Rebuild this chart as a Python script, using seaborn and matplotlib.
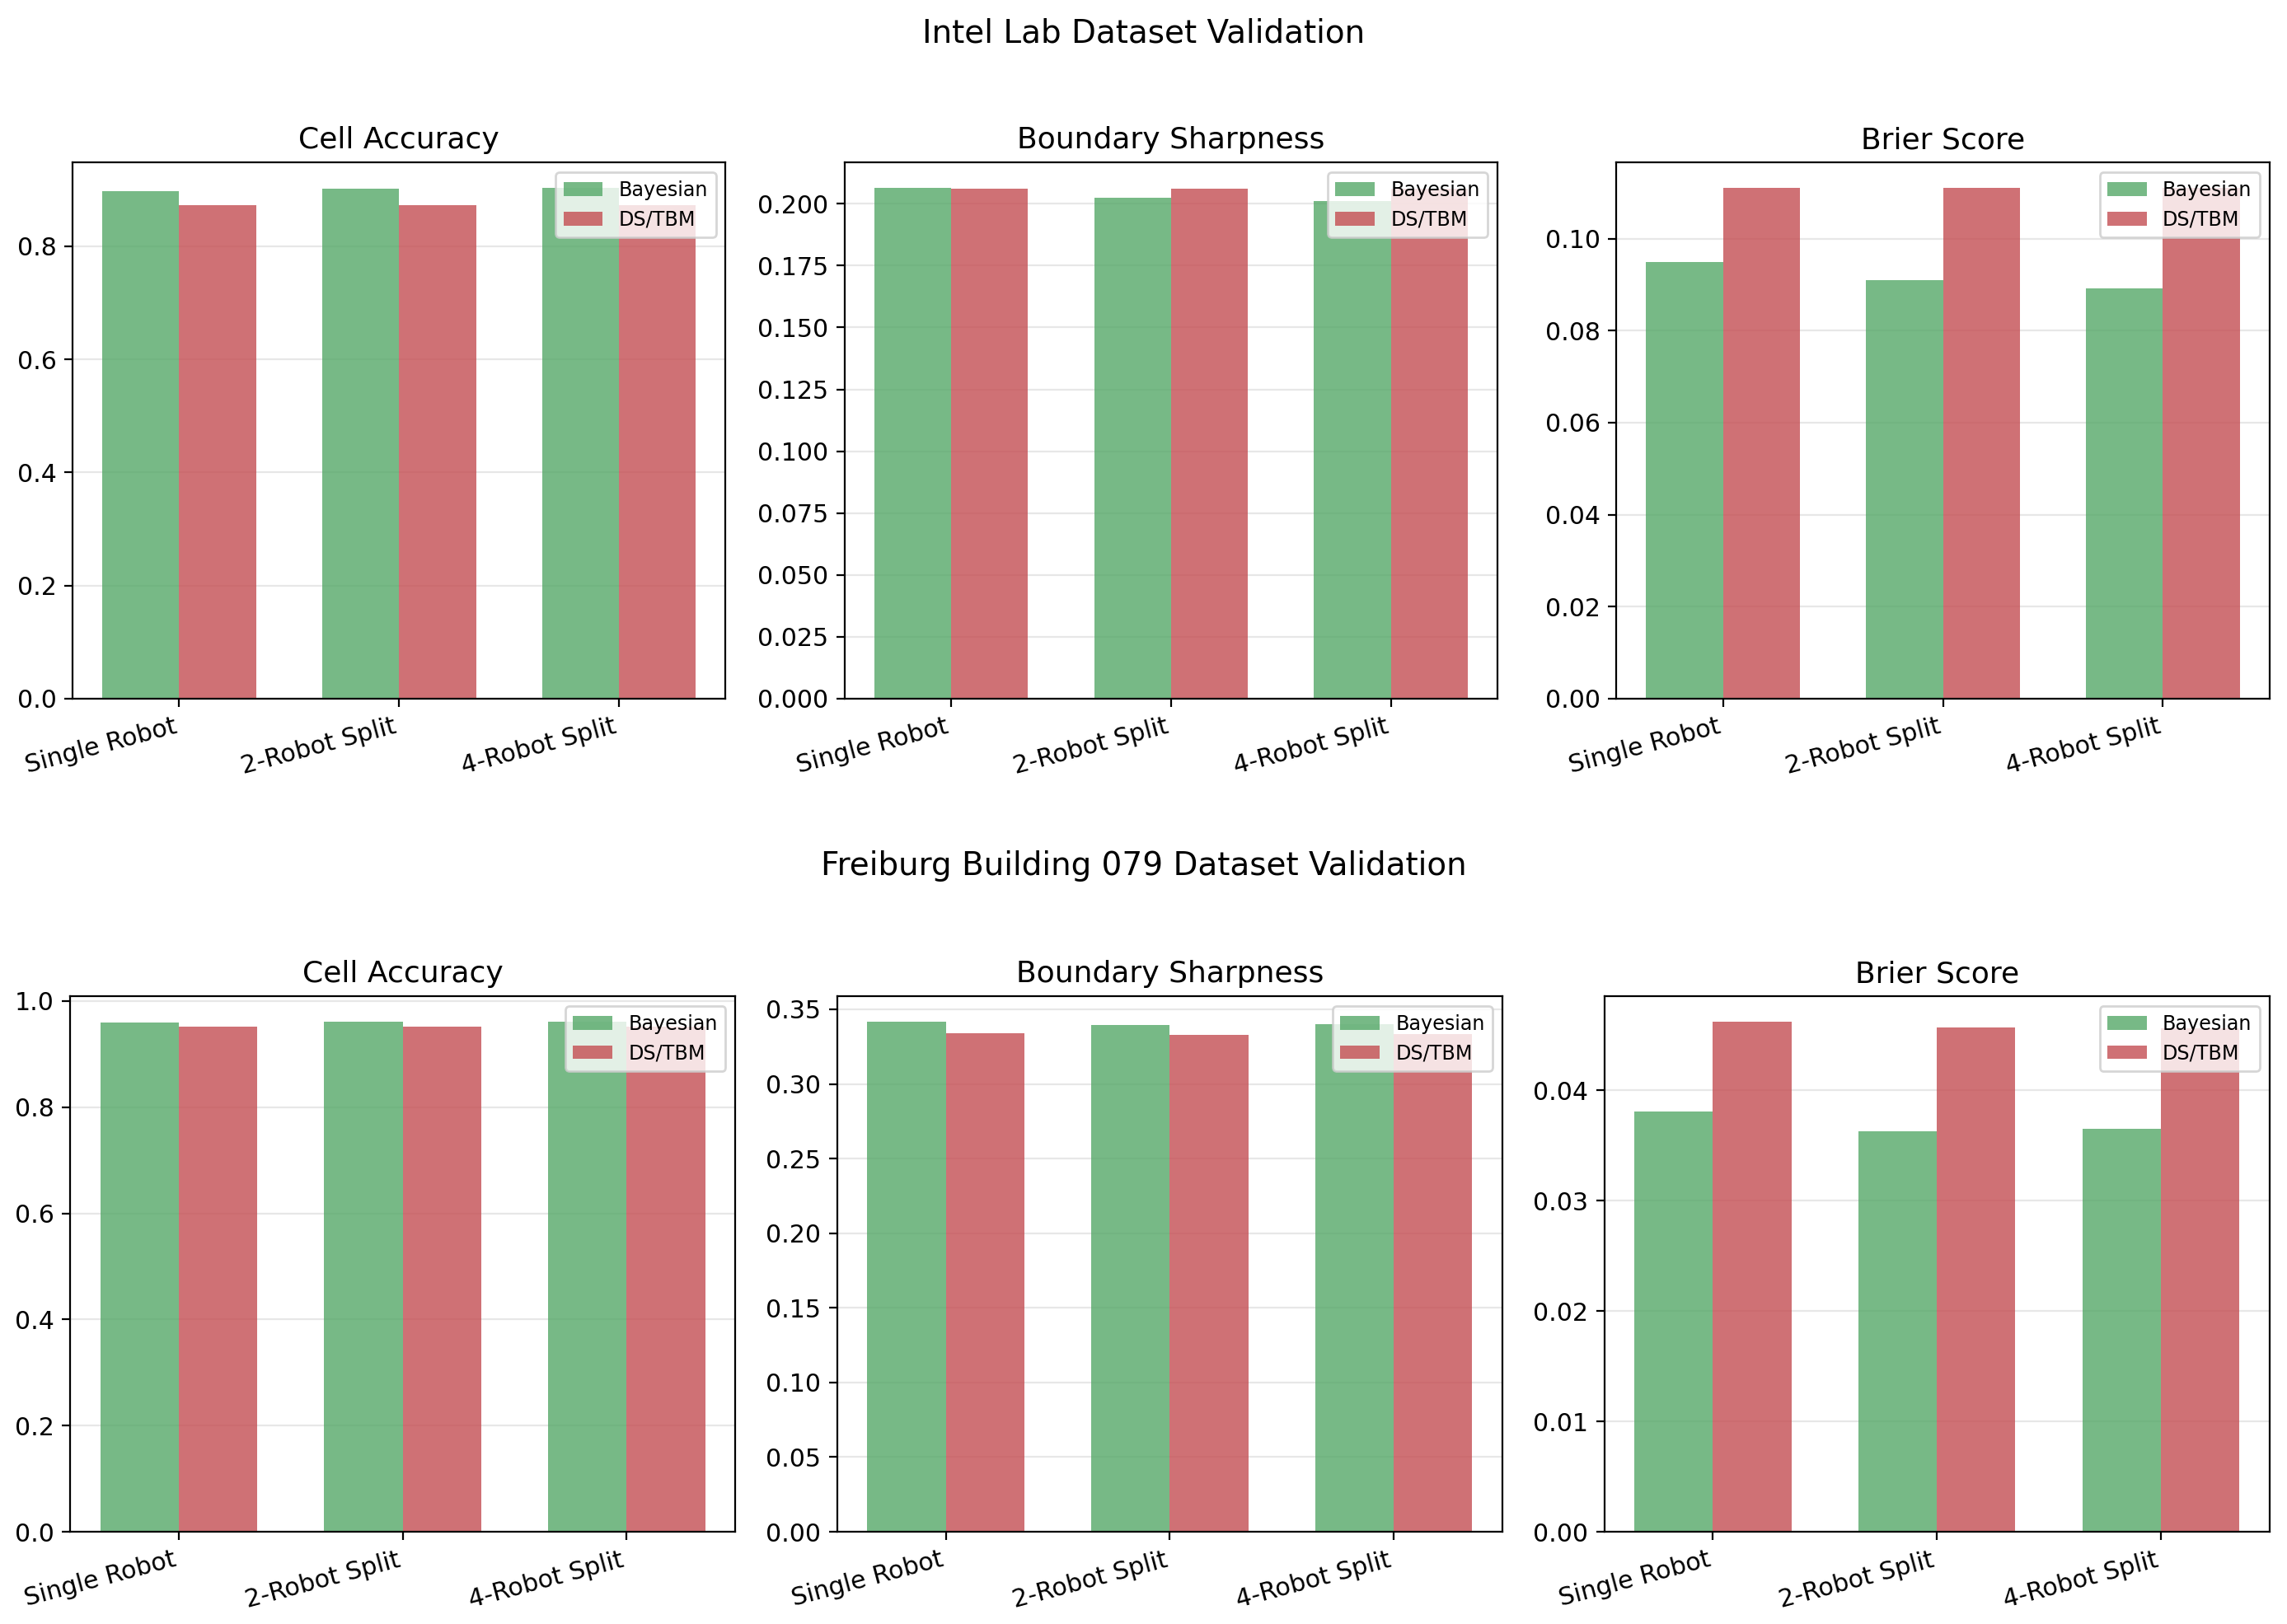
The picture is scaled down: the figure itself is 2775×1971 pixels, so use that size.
import matplotlib
matplotlib.use("Agg")
import matplotlib.pyplot as plt
import pandas as pd
import seaborn as sns

scenarios = ["Single Robot", "2-Robot Split", "4-Robot Split"]
methods = ["Bayesian", "DS/TBM"]
metrics = ["Cell Accuracy", "Boundary Sharpness", "Brier Score"]

# Intel Lab
intel_acc_bayes = [0.897, 0.901, 0.903]
intel_acc_ds = [0.872, 0.872, 0.872]
intel_sharp_bayes = [0.2064, 0.2026, 0.2012]
intel_sharp_ds = [0.2061, 0.2061, 0.2061]
intel_brier_bayes = [0.0949, 0.0909, 0.0891]
intel_brier_ds = [0.111, 0.111, 0.111]

# Freiburg 079
frb_acc_bayes = [0.959, 0.961, 0.961]
frb_acc_ds = [0.951, 0.951, 0.951]
frb_sharp_bayes = [0.3417, 0.3397, 0.3401]
frb_sharp_ds = [0.3338, 0.3331, 0.3336]
frb_brier_bayes = [0.0381, 0.0363, 0.0365]
frb_brier_ds = [0.0462, 0.0457, 0.0456]

datasets = [
    ("Intel Lab Dataset Validation",
     [(intel_acc_bayes, intel_acc_ds), (intel_sharp_bayes, intel_sharp_ds),
      (intel_brier_bayes, intel_brier_ds)]),
    ("Freiburg Building 079 Dataset Validation",
     [(frb_acc_bayes, frb_acc_ds), (frb_sharp_bayes, frb_sharp_ds),
      (frb_brier_bayes, frb_brier_ds)]),
]

deep = sns.color_palette("deep")
colors = {"Bayesian": deep[2], "DS/TBM": deep[3]}

fig = plt.figure(figsize=(13.875, 9.855), dpi=200)
gs_top = fig.add_gridspec(1, 3, left=0.0317, right=0.9924, top=0.900, bottom=0.5698, wspace=0.182)
gs_bot = fig.add_gridspec(1, 3, left=0.0306, right=0.9924, top=0.3866, bottom=0.0568, wspace=0.153)
grids = [gs_top, gs_bot]

for r, (row_title, rows) in enumerate(datasets):
    for c, (bayes, ds) in enumerate(rows):
        ax = fig.add_subplot(grids[r][0, c])
        df = pd.DataFrame({
            "scenario": scenarios * 2,
            "method": ["Bayesian"] * 3 + ["DS/TBM"] * 3,
            "value": bayes + ds,
        })
        sns.barplot(data=df, x="scenario", y="value", hue="method", hue_order=methods,
                    palette=colors, saturation=1, alpha=0.8, width=0.7, errorbar=None, ax=ax)
        ax.autoscale(enable=True, axis="x")
        ax.set_title(metrics[c], fontsize=13)
        ax.set_xlabel("")
        ax.set_ylabel("")
        ax.tick_params(labelsize=10.8)
        ax.grid(axis="y", alpha=0.3)
        ax.set_axisbelow(True)
        plt.setp(ax.get_xticklabels(), rotation=15, ha="right")
        ax.legend(loc="upper right", fontsize=8.6)

fig.text(0.5, 0.9797, datasets[0][0], ha="center", va="center", fontsize=14)
fig.text(0.5, 0.4668, datasets[1][0], ha="center", va="center", fontsize=14)

fig.savefig("out.png", dpi=200)
